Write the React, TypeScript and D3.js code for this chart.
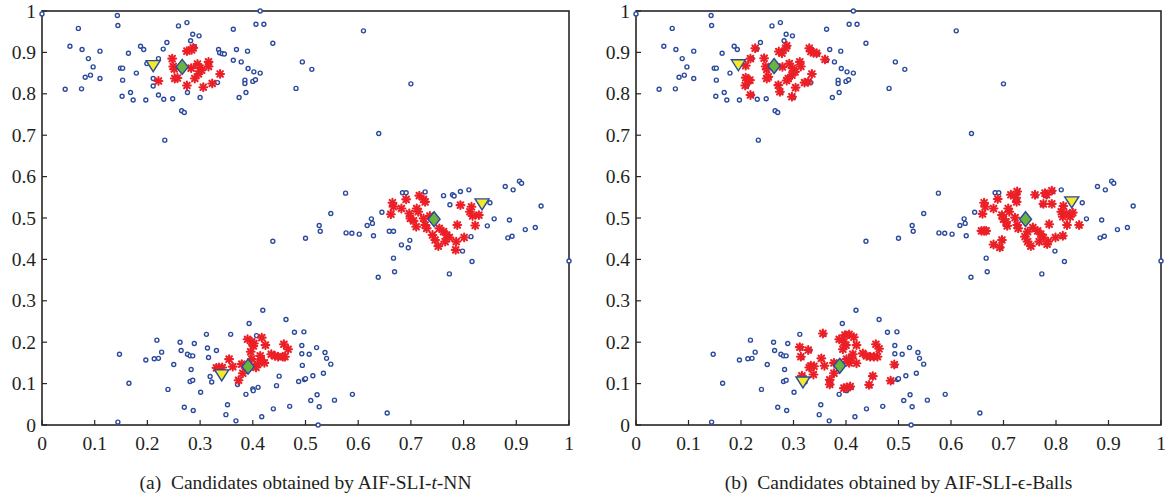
import React from "react";
import * as d3 from "d3";

type P = [number, number];

const xTicks = [0, 0.1, 0.2, 0.3, 0.4, 0.5, 0.6, 0.7, 0.8, 0.9, 1];
const yTicks = [0, 0.1, 0.2, 0.3, 0.4, 0.5, 0.6, 0.7, 0.8, 0.9, 1];

const blueTop: P[] = [
  [0.0, 0.993], [0.143, 0.989], [0.144, 0.965], [0.069, 0.958], [0.053, 0.915], [0.076, 0.907], [0.11, 0.903],
  [0.088, 0.885], [0.097, 0.865], [0.092, 0.845], [0.082, 0.84], [0.11, 0.837], [0.044, 0.811], [0.075, 0.812],
  [0.164, 0.898], [0.187, 0.915], [0.193, 0.907], [0.149, 0.862], [0.153, 0.862], [0.179, 0.85], [0.153, 0.833],
  [0.168, 0.803], [0.152, 0.794], [0.173, 0.785], [0.197, 0.785], [0.221, 0.797], [0.231, 0.787], [0.248, 0.788],
  [0.211, 0.837], [0.211, 0.819], [0.199, 0.873], [0.221, 0.885], [0.23, 0.908], [0.237, 0.924], [0.233, 0.688],
  [0.259, 0.964], [0.275, 0.972], [0.286, 0.944], [0.298, 0.94], [0.282, 0.928], [0.289, 0.914], [0.265, 0.759],
  [0.27, 0.755], [0.276, 0.803], [0.3, 0.791], [0.333, 0.827], [0.335, 0.907], [0.337, 0.899], [0.342, 0.897],
  [0.346, 0.896], [0.363, 0.956], [0.369, 0.907], [0.363, 0.881], [0.378, 0.877], [0.39, 0.903], [0.391, 0.861],
  [0.402, 0.853], [0.414, 0.85], [0.385, 0.833], [0.385, 0.825], [0.4, 0.83], [0.405, 0.834], [0.374, 0.791],
  [0.387, 0.803], [0.414, 1.0], [0.406, 0.968], [0.421, 0.968], [0.438, 0.922], [0.482, 0.813], [0.61, 0.952],
  [0.494, 0.877], [0.512, 0.859], [0.639, 0.704], [0.7, 0.824],
];

const blueMid: P[] = [
  [0.5, 0.451], [0.526, 0.482], [0.528, 0.468], [0.548, 0.511], [0.576, 0.56], [0.577, 0.464], [0.588, 0.463],
  [0.602, 0.461], [0.617, 0.482], [0.625, 0.498], [0.627, 0.487], [0.629, 0.457], [0.645, 0.514], [0.659, 0.468],
  [0.667, 0.468], [0.682, 0.435], [0.695, 0.428], [0.698, 0.446], [0.667, 0.403], [0.669, 0.37], [0.638, 0.357],
  [0.684, 0.561], [0.691, 0.561], [0.727, 0.563], [0.762, 0.554], [0.779, 0.556], [0.782, 0.553], [0.794, 0.564],
  [0.81, 0.568], [0.774, 0.532], [0.85, 0.537], [0.858, 0.498], [0.845, 0.481], [0.814, 0.455], [0.798, 0.42],
  [0.816, 0.395], [0.773, 0.365], [0.879, 0.576], [0.894, 0.568], [0.906, 0.589], [0.91, 0.584], [0.887, 0.495],
  [0.947, 0.529], [0.917, 0.472], [0.936, 0.477], [0.884, 0.452], [0.892, 0.456], [1.0, 0.396], [0.438, 0.444],
];

const blueLow: P[] = [
  [0.147, 0.171], [0.165, 0.101], [0.144, 0.007], [0.197, 0.157], [0.213, 0.16], [0.221, 0.161], [0.227, 0.176],
  [0.218, 0.205], [0.25, 0.146], [0.239, 0.086], [0.262, 0.2], [0.264, 0.18], [0.276, 0.171], [0.281, 0.167],
  [0.286, 0.167], [0.289, 0.197], [0.283, 0.134], [0.281, 0.105], [0.286, 0.108], [0.27, 0.043], [0.287, 0.035],
  [0.301, 0.079], [0.312, 0.219], [0.314, 0.186], [0.316, 0.163], [0.331, 0.18], [0.319, 0.117], [0.322, 0.104],
  [0.358, 0.219], [0.352, 0.049], [0.349, 0.025], [0.368, 0.01], [0.371, 0.098], [0.387, 0.074], [0.4, 0.087],
  [0.401, 0.083], [0.41, 0.091], [0.393, 0.245], [0.419, 0.277], [0.407, 0.216], [0.417, 0.02], [0.439, 0.039],
  [0.445, 0.095], [0.45, 0.118], [0.463, 0.255], [0.47, 0.045], [0.479, 0.224], [0.497, 0.225], [0.493, 0.192],
  [0.493, 0.172], [0.494, 0.144], [0.507, 0.171], [0.521, 0.187], [0.537, 0.175], [0.54, 0.161], [0.548, 0.147],
  [0.534, 0.125], [0.487, 0.105], [0.498, 0.11], [0.5, 0.112], [0.514, 0.119], [0.522, 0.073], [0.51, 0.059],
  [0.526, 0.044], [0.555, 0.06], [0.589, 0.074], [0.524, 0.0], [0.655, 0.029],
];

const redA: P[] = [
  [0.221, 0.831], [0.247, 0.885], [0.249, 0.866], [0.251, 0.86], [0.252, 0.837], [0.257, 0.838], [0.275, 0.82],
  [0.275, 0.903], [0.284, 0.906], [0.287, 0.911], [0.283, 0.862], [0.295, 0.872], [0.3, 0.862], [0.303, 0.857],
  [0.297, 0.848], [0.29, 0.837], [0.316, 0.877], [0.316, 0.866], [0.338, 0.848], [0.323, 0.825], [0.306, 0.816],
  [0.665, 0.537], [0.667, 0.527], [0.662, 0.509], [0.682, 0.523], [0.691, 0.545], [0.697, 0.511], [0.699, 0.499],
  [0.705, 0.493], [0.71, 0.479], [0.711, 0.523], [0.714, 0.515], [0.716, 0.554], [0.724, 0.545], [0.727, 0.539],
  [0.724, 0.499], [0.727, 0.483], [0.73, 0.475], [0.736, 0.505], [0.741, 0.459], [0.746, 0.447], [0.752, 0.432],
  [0.754, 0.475], [0.762, 0.467], [0.768, 0.459], [0.773, 0.453], [0.765, 0.443], [0.786, 0.443], [0.785, 0.423],
  [0.788, 0.483], [0.794, 0.531], [0.801, 0.453], [0.812, 0.515], [0.815, 0.527], [0.817, 0.505], [0.829, 0.507],
  [0.822, 0.482],
  [0.331, 0.138], [0.336, 0.139], [0.342, 0.139], [0.355, 0.159], [0.362, 0.141], [0.373, 0.108], [0.379, 0.147],
  [0.381, 0.125], [0.39, 0.207], [0.398, 0.201], [0.402, 0.197], [0.401, 0.191], [0.396, 0.177], [0.398, 0.159],
  [0.406, 0.139], [0.409, 0.147], [0.414, 0.167], [0.416, 0.157], [0.417, 0.211], [0.422, 0.15], [0.424, 0.193],
  [0.435, 0.171], [0.442, 0.167], [0.448, 0.165], [0.457, 0.165], [0.461, 0.165], [0.459, 0.195], [0.467, 0.183],
];

const redB: P[] = [
  [0.209, 0.868], [0.218, 0.885], [0.227, 0.91], [0.209, 0.839], [0.214, 0.832], [0.217, 0.833], [0.208, 0.82],
  [0.218, 0.797], [0.244, 0.886], [0.247, 0.866], [0.249, 0.859], [0.249, 0.837], [0.252, 0.841], [0.272, 0.902],
  [0.278, 0.898], [0.285, 0.91], [0.287, 0.916], [0.279, 0.865], [0.271, 0.821], [0.274, 0.805], [0.292, 0.873],
  [0.298, 0.862], [0.303, 0.853], [0.297, 0.845], [0.29, 0.837], [0.287, 0.832], [0.312, 0.877], [0.314, 0.866],
  [0.297, 0.793], [0.304, 0.815], [0.321, 0.827], [0.328, 0.829], [0.335, 0.848], [0.33, 0.91], [0.333, 0.902],
  [0.338, 0.899], [0.344, 0.898], [0.36, 0.883],
  [0.658, 0.469], [0.663, 0.469], [0.667, 0.469], [0.66, 0.51], [0.663, 0.537], [0.665, 0.527], [0.681, 0.523],
  [0.689, 0.546], [0.681, 0.436], [0.693, 0.429], [0.697, 0.447], [0.697, 0.507], [0.7, 0.497], [0.705, 0.491],
  [0.707, 0.481], [0.709, 0.523], [0.711, 0.515], [0.714, 0.556], [0.724, 0.549], [0.726, 0.564], [0.725, 0.539],
  [0.722, 0.501], [0.726, 0.483], [0.728, 0.475], [0.746, 0.467], [0.741, 0.455], [0.746, 0.443], [0.752, 0.432],
  [0.756, 0.477], [0.765, 0.469], [0.771, 0.461], [0.776, 0.453], [0.768, 0.443], [0.76, 0.556], [0.779, 0.56],
  [0.782, 0.556], [0.776, 0.534], [0.792, 0.534], [0.792, 0.566], [0.787, 0.485], [0.785, 0.443], [0.783, 0.437],
  [0.799, 0.453], [0.813, 0.457], [0.814, 0.529], [0.81, 0.515], [0.813, 0.503], [0.82, 0.511], [0.827, 0.503],
  [0.832, 0.513], [0.821, 0.483], [0.844, 0.483],
  [0.312, 0.188], [0.314, 0.165], [0.328, 0.181], [0.33, 0.139], [0.333, 0.143], [0.339, 0.142], [0.338, 0.122],
  [0.316, 0.119], [0.356, 0.221], [0.353, 0.161], [0.359, 0.143], [0.369, 0.109], [0.369, 0.098], [0.377, 0.125],
  [0.377, 0.15], [0.387, 0.207], [0.394, 0.183], [0.396, 0.2], [0.4, 0.193], [0.398, 0.217], [0.406, 0.219],
  [0.415, 0.212], [0.42, 0.193], [0.401, 0.159], [0.406, 0.15], [0.411, 0.161], [0.413, 0.171], [0.42, 0.149],
  [0.396, 0.089], [0.401, 0.091], [0.408, 0.093], [0.432, 0.173], [0.439, 0.167], [0.446, 0.165], [0.453, 0.165],
  [0.46, 0.165], [0.457, 0.195], [0.463, 0.184], [0.451, 0.118], [0.444, 0.097], [0.485, 0.107], [0.492, 0.146],
];

const centersA: P[] = [[0.266, 0.865], [0.744, 0.497], [0.391, 0.141]];
const centersB: P[] = [[0.263, 0.867], [0.742, 0.497], [0.388, 0.143]];
const queriesA: P[] = [[0.211, 0.868], [0.835, 0.534], [0.341, 0.121]];
const queriesB: P[] = [[0.195, 0.87], [0.83, 0.539], [0.318, 0.104]];

const bluePoints: P[] = [...blueTop, ...blueMid, ...blueLow];

const FONT = "'Liberation Serif', 'Times New Roman', serif";
const AXIS = "#262626";
const TEXT = "#231f20";
const BLUE = "#2b4a9c";
const RED = "#ec1f27";

const TOP = 11;
const BOTTOM = 425;
const FS = 19.5;

function Panel({
  x0, x1, red, centers, queries, caption,
}: {
  x0: number; x1: number; red: P[]; centers: P[]; queries: P[]; caption: React.ReactNode;
}) {
  const xs = d3.scaleLinear().domain([0, 1]).range([x0, x1]);
  const ys = d3.scaleLinear().domain([0, 1]).range([BOTTOM, TOP]);
  const star = 3.9;
  return (
    <g>
      <rect x={x0} y={TOP} width={x1 - x0} height={BOTTOM - TOP} fill="none" stroke={AXIS} strokeWidth={1.6} />
      {xTicks.map((t) => (
        <g key={"x" + t}>
          <line x1={xs(t)} x2={xs(t)} y1={BOTTOM} y2={BOTTOM - 5} stroke={AXIS} strokeWidth={1.2} />
          <text x={xs(t)} y={BOTTOM + 25} textAnchor="middle" fontFamily={FONT} fontSize={FS} fill={TEXT}>
            {d3.format("")(t)}
          </text>
        </g>
      ))}
      {yTicks.map((t) => (
        <g key={"y" + t}>
          <line x1={x0} x2={x0 + 5} y1={ys(t)} y2={ys(t)} stroke={AXIS} strokeWidth={1.2} />
          <text x={x0 - 6} y={ys(t) + 6.5} textAnchor="end" fontFamily={FONT} fontSize={FS} fill={TEXT}>
            {d3.format("")(t)}
          </text>
        </g>
      ))}
      {bluePoints.map((p, i) => (
        <circle key={"b" + i} cx={xs(p[0])} cy={ys(p[1])} r={2} fill="#fff" stroke={BLUE} strokeWidth={1.4} />
      ))}
      {red.map((p, i) => {
        const cx = xs(p[0]);
        const cy = ys(p[1]);
        const d = star * 0.72;
        return (
          <g key={"r" + i} stroke={RED} strokeWidth={2.1} strokeLinecap="round">
            <line x1={cx - star} x2={cx + star} y1={cy} y2={cy} />
            <line x1={cx} x2={cx} y1={cy - star} y2={cy + star} />
            <line x1={cx - d} x2={cx + d} y1={cy - d} y2={cy + d} />
            <line x1={cx - d} x2={cx + d} y1={cy + d} y2={cy - d} />
          </g>
        );
      })}
      {queries.map((p, i) => {
        const cx = xs(p[0]);
        const cy = ys(p[1]);
        return (
          <path
            key={"q" + i}
            d={`M${cx - 7},${cy - 5} L${cx + 7},${cy - 5} L${cx},${cy + 6} Z`}
            fill="#f3ea2a"
            stroke={BLUE}
            strokeWidth={1.4}
          />
        );
      })}
      {centers.map((p, i) => {
        const cx = xs(p[0]);
        const cy = ys(p[1]);
        return (
          <path
            key={"c" + i}
            d={`M${cx},${cy - 7.5} L${cx + 6},${cy} L${cx},${cy + 7.5} L${cx - 6},${cy} Z`}
            fill="#6ab33f"
            stroke={BLUE}
            strokeWidth={1.4}
          />
        );
      })}
      <text x={(x0 + x1) / 2} y={489} textAnchor="middle" fontFamily={FONT} fontSize={FS} fill={TEXT}>
        {caption}
      </text>
    </g>
  );
}

export default function App() {
  return (
    <svg
      width={1169}
      height={500}
      viewBox="0 0 1169 500"
      style={{ position: "absolute", left: 0, top: 0, background: "#fff" }}
    >
      <rect width={1169} height={500} fill="#fff" />
      <Panel
        x0={42}
        x1={569}
        red={redA}
        centers={centersA}
        queries={queriesA}
        caption={
          <>
            {"(a)\u00a0\u00a0Candidates obtained by AIF-SLI-"}
            <tspan fontStyle="italic">t</tspan>
            {"-NN"}
          </>
        }
      />
      <Panel
        x0={636}
        x1={1161}
        red={redB}
        centers={centersB}
        queries={queriesB}
        caption={
          <>
            {"(b)\u00a0\u00a0Candidates obtained by AIF-SLI-"}
            <tspan>{"\u03f5"}</tspan>
            {"-Balls"}
          </>
        }
      />
    </svg>
  );
}
